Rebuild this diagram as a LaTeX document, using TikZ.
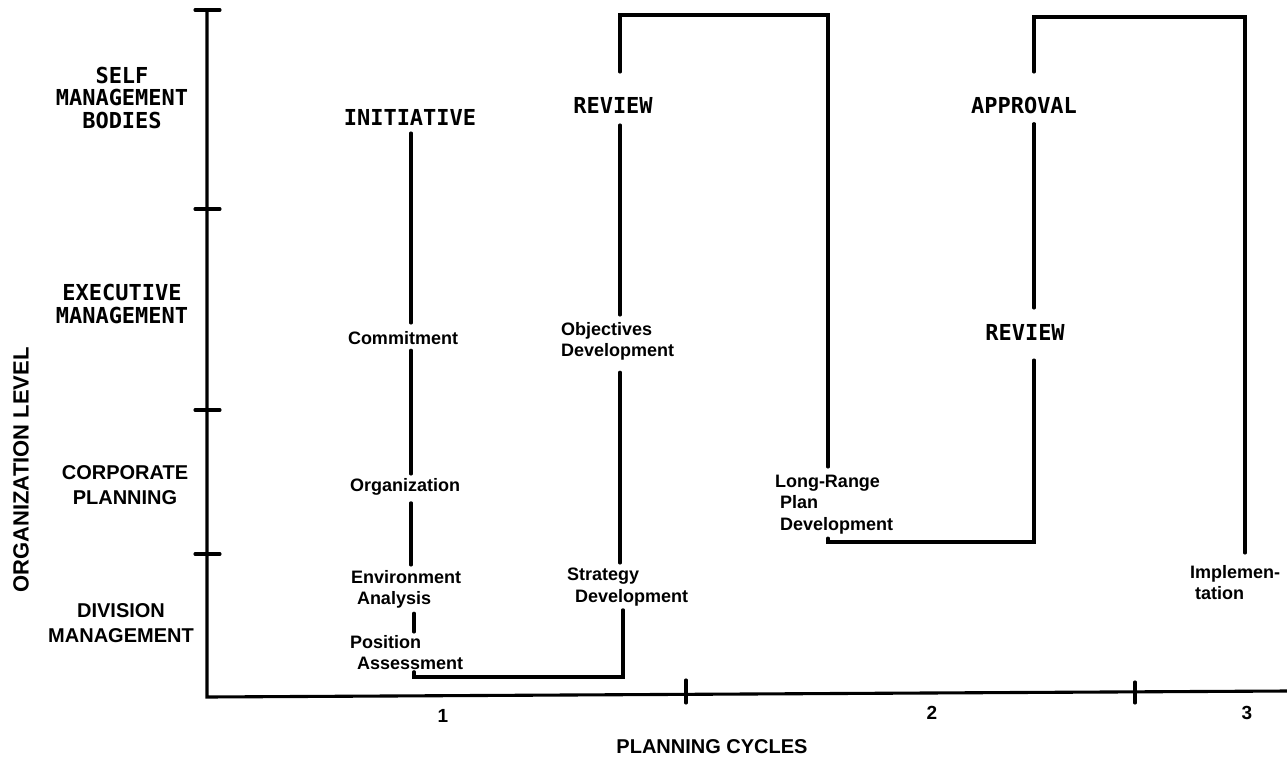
\documentclass[tikz,border=0pt]{standalone}
\usepackage{fontspec}
\setmainfont{Liberation Sans}
\newfontfamily\typefont{DejaVu Sans Mono}
\usetikzlibrary{calc}
\begin{document}
\begin{tikzpicture}[x=1pt,y=-1pt,
  rule/.style={line width=3.1pt,line cap=round},
  caps/.style={font=\typefont\bfseries\fontsize{22}{22.5}\selectfont,inner sep=0pt,outer sep=0pt,align=center},
  rowlabel/.style={font=\bfseries\fontsize{20}{24.5}\selectfont,inner sep=0pt,outer sep=0pt,align=center},
  stage/.style={font=\bfseries\fontsize{18}{21.5}\selectfont,inner sep=0pt,outer sep=0pt,align=left,anchor=north west},
  axisnum/.style={font=\bfseries\fontsize{19}{19}\selectfont,inner sep=0pt}]
\fill[white] (0,0) rectangle (1287,763);
\useasboundingbox (0,0) rectangle (1287,763);

% axes
\coordinate (o) at (207,697);
\coordinate (ytop) at (207,10);
\coordinate (xend) at (1287,691);
\draw[rule] (ytop) -- (o) -- (xend);
\foreach \yy in {10,209,410,554} \draw[rule] (195,\yy) -- (220,\yy);
\draw[rule] (686,680) -- (686,703);
\draw[rule] (1135,682) -- (1135,703);

% organisation levels
\node[caps] (smb) at (122,97.5) {SELF\\MANAGEMENT\\BODIES};
\node[caps] (exm) at (122,304) {EXECUTIVE\\MANAGEMENT};
\node[rowlabel] (cpl) at (125,485) {CORPORATE\\PLANNING};
\node[rowlabel] (dvm) at (121,623) {DIVISION\\MANAGEMENT};
\node[rowlabel,rotate=90,font=\bfseries\fontsize{22}{22}\selectfont] (orglevel) at (21,470) {ORGANIZATION LEVEL};

% planning cycles
\node[axisnum] (n1) at (443,716) {1};
\node[axisnum] (n2) at (932,713) {2};
\node[axisnum] (n3) at (1247,713) {3};
\node[rowlabel] (cycles) at (712,747) {PLANNING CYCLES};

% activities
\node[caps,anchor=north] (initiative) at (410,109) {INITIATIVE};
\node[caps,anchor=north] (review1) at (613,97) {REVIEW};
\node[caps,anchor=north] (approval) at (1024,97) {APPROVAL};
\node[caps,anchor=north] (review2) at (1025,324) {REVIEW};

\node[stage] (commitment) at (348,331) {Commitment};
\node[stage] (organization) at (350,478) {Organization};
\node[stage] (envana) at (351,570) {Environment\\\hspace*{6pt}Analysis};
\node[stage] (posass) at (350,635) {Position\\\hspace*{7pt}Assessment};
\node[stage] (objdev) at (561,322) {Objectives\\Development};
\node[stage] (stratdev) at (567,568) {Strategy\\\hspace*{8pt}Development};
\node[stage] (lrpd) at (775,475) {Long-Range\\\hspace*{5pt}Plan\\\hspace*{5pt}Development};
\node[stage] (implem) at (1190,565) {Implemen-\\\hspace*{5pt}tation};

% flow lines
\coordinate (c1) at (411,0);
\coordinate (c1l) at (414,0);
\coordinate (c2) at (620,0);
\coordinate (c2l) at (623,0);
\coordinate (c3) at (828,0);
\coordinate (c4) at (1034,0);
\coordinate (c5) at (1245,0);
\coordinate (top1) at (0,15);
\coordinate (top2) at (0,17);
\coordinate (bot1) at (0,677);
\coordinate (bot2) at (0,542);

\draw[rule] ($(initiative.south -| c1)+(0,8)$) -- ($(commitment.north -| c1)+(0,-8)$);
\draw[rule] ($(commitment.south -| c1)+(0,6)$) -- ($(organization.north -| c1)+(0,-4)$);
\draw[rule] ($(organization.south -| c1)+(0,8)$) -- ($(envana.north -| c1)+(0,-5)$);
\draw[rule] ($(envana.south -| c1l)+(0,5)$) -- ($(posass.north -| c1l)+(0,-3)$);
\draw[rule] ($(posass.south -| c1l)+(0,2)$) -- (c1l |- bot1) -- (c2l |- bot1) -- ($(stratdev.south -| c2l)+(0,4)$);
\draw[rule] ($(stratdev.north -| c2)+(0,-5)$) -- ($(objdev.south -| c2)+(0,12)$);
\draw[rule] ($(objdev.north -| c2)+(0,-7)$) -- ($(review1.south -| c2)+(0,12)$);
\draw[rule] ($(review1.north -| c2)+(0,-25)$) -- (c2 |- top1) -- (c3 |- top1) -- ($(lrpd.north -| c3)+(0,-8)$);
\draw[rule] ($(lrpd.south -| c3)+(0,4)$) -- (c3 |- bot2) -- (c4 |- bot2) -- ($(review2.south -| c4)+(0,20)$);
\draw[rule] ($(review2.north -| c4)+(0,-16)$) -- ($(approval.south -| c4)+(0,10)$);
\draw[rule] ($(approval.north -| c4)+(0,-25)$) -- (c4 |- top2) -- (c5 |- top2) -- ($(implem.north -| c5)+(0,-12)$);
\end{tikzpicture}
\end{document}
